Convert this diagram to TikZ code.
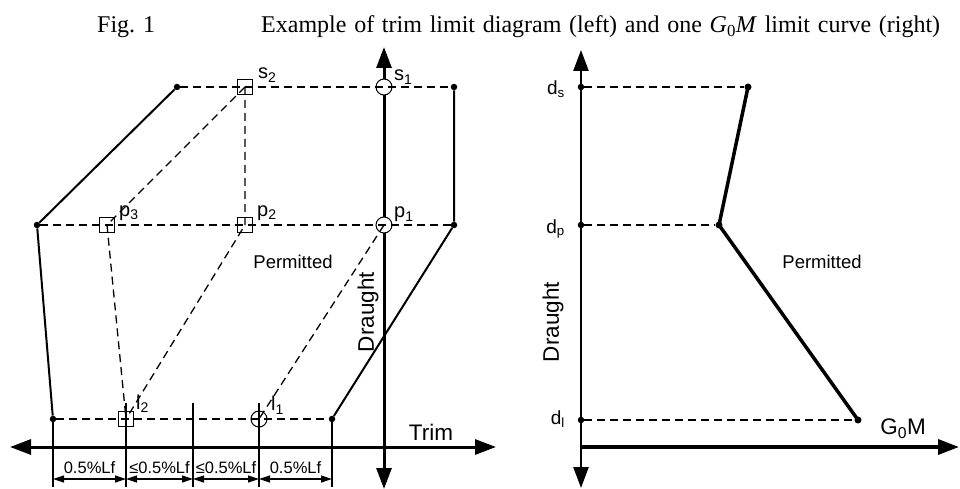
\documentclass[tikz,border=0pt]{standalone}
\usepackage{fontspec}
\setmainfont{Liberation Serif}
\setsansfont{Liberation Sans}
\usetikzlibrary{arrows.meta,positioning,calc}

\begin{document}
\begin{tikzpicture}[x=1pt, y=-1pt,
  dot/.style={circle, fill=black, inner sep=0pt, minimum size=6.5pt},
  sqmark/.style={rectangle, draw=black, fill=white, line width=1pt, inner sep=0pt, minimum size=15pt},
  cmark/.style={circle, draw=black, fill=white, line width=1pt, inner sep=0pt, minimum size=16pt},
  ptlbl/.style={font=\sffamily\fontsize{20pt}{24pt}\selectfont, inner sep=0pt, anchor=base west},
  dlbl/.style={font=\sffamily\fontsize{19pt}{23pt}\selectfont, inner sep=0pt, anchor=base east},
  axlbl/.style={font=\sffamily\fontsize{22.5pt}{26pt}\selectfont, inner sep=0pt},
  permlbl/.style={font=\sffamily\fontsize{18.5pt}{22pt}\selectfont, inner sep=0pt},
  dimlbl/.style={font=\sffamily\fontsize{16.5pt}{20pt}\selectfont, inner sep=0pt, anchor=base},
  guide/.style={dash pattern=on 8pt off 5pt, line width=1.3pt},
  bound/.style={line width=2pt},
  axis/.style={line width=3pt},
  dimtick/.style={line width=1.2pt},
  dim/.style={line width=1.2pt, {Triangle[length=11pt,width=7pt]}-{Triangle[length=11pt,width=7pt]}},
  big/.tip={Triangle[length=21pt,width=15pt]}
]
\useasboundingbox (0,0) rectangle (960,489);

\node[font=\fontsize{24pt}{28pt}\selectfont, inner sep=0pt, anchor=base west] (fig) at (97,33) {Fig. 1};
\node[font=\fontsize{24pt}{28pt}\selectfont, inner sep=0pt, anchor=base west] (caption) at (261,33)
  {\makebox[679pt][s]{Example of trim limit diagram (left) and one \textit{G}\textsubscript{0}\textit{M} limit curve (right)}};

% left: trim limit diagram
\coordinate (trimL) at (10,447);
\coordinate (trimR) at (496,447);
\coordinate (drB) at (384,489);
\coordinate (drT) at (384,47);
\draw[axis, {big}-{big}] (trimL) -- (trimR);
\draw[axis, {big}-{big}] (drB) -- (drT);

\node[dot] (tl) at (177,87) {};
\node[dot] (tr) at (454,87) {};
\node[dot] (ml) at (37,225) {};
\node[dot] (mr) at (454,225) {};
\node[dot] (bl) at (53,419) {};
\node[dot] (br) at (332,419) {};
\draw[bound] (tl) -- (ml) -- (bl);
\draw[bound] (br) -- (mr) -- (tr);

\node[sqmark] (s2) at (245,87) {};
\node[cmark] (s1) at (384,87) {};
\node[sqmark] (p3) at (107,225) {};
\node[sqmark] (p2) at (245,225) {};
\node[cmark] (p1) at (384,225) {};
\node[sqmark] (l2) at (126,419) {};
\node[cmark] (l1) at (259,419) {};

\draw[guide] (tl) -- (s2.center) -- (s1.center) -- (tr);
\draw[guide] (ml) -- (p3.center) -- (p2.center) -- (p1.center) -- (mr);
\draw[guide] (bl) -- (l2.center) -- (l1.center) -- (br);
\draw[guide] (s2.center) -- (p3.center) -- (l2.center);
\draw[guide] (s2.center) -- (p2.center) -- (l2.center);
\draw[guide] (p1.center) -- (l1.center);

\node[ptlbl] at ($(s2.north east)+(5,0)$) {s\textsubscript{2}};
\node[ptlbl] at ($(s1.north east)+(4,0)$) {s\textsubscript{1}};
\node[ptlbl] at ($(p3.north east)+(4,-1)$) {p\textsubscript{3}};
\node[ptlbl] at ($(p2.north east)+(4,-1)$) {p\textsubscript{2}};
\node[ptlbl] at ($(p1.north east)+(4,-1)$) {p\textsubscript{1}};
\node[ptlbl] at ($(l2.north east)+(2,-2)$) {l\textsubscript{2}};
\node[ptlbl] at ($(l1.north east)+(6,-2)$) {l\textsubscript{1}};

\node[permlbl] (perm1) at (293,262) {Permitted};
\node[axlbl, rotate=90] (draught1) at (368,312) {Draught};
\node[axlbl] (trim) at (431,432) {Trim};

\foreach \x/\y [count=\i] in {53/419, 126/403, 193/403, 259/403, 332/419} {
  \coordinate (tt\i) at (\x,\y);
  \coordinate (tb\i) at (\x,487);
  \coordinate (ta\i) at (\x,479);
  \draw[dimtick] (tt\i) -- (tb\i);
}
\foreach \a/\b/\txt in {1/2/{0.5\%Lf}, 2/3/{≤0.5\%Lf}, 3/4/{≤0.5\%Lf}, 4/5/{0.5\%Lf}} {
  \draw[dim] (ta\a) -- (ta\b);
  \node[dimlbl] at ($(ta\a)!0.5!(ta\b)+(0,-6)$) {\txt};
}

% right: G0M limit curve
\coordinate (gB) at (581,488);
\coordinate (gT) at (581,50);
\coordinate (gO) at (580,447);
\coordinate (gR) at (959,447);
\draw[line width=2.5pt, {big}-{big}] (gB) -- (gT);
\draw[line width=3.5pt, -{big}] (gO) -- (gR);

\node[dot] (ds) at (581,87) {};
\node[dot] (dp) at (581,225) {};
\node[dot] (dl) at (581,420) {};
\node[dot, minimum size=7pt] (cs) at (748,87) {};
\node[dot, minimum size=7pt] (cp) at (719,225) {};
\node[dot, minimum size=7pt] (cl) at (858,420) {};
\draw[guide] (ds) -- (cs);
\draw[guide] (dp) -- (cp);
\draw[guide] (dl) -- (cl);
\draw[line width=3.5pt, line join=round] (cs.center) -- (cp.center) -- (cl.center);

\node[dlbl] at (565,95) {d\textsubscript{s}};
\node[dlbl] at (565,233) {d\textsubscript{p}};
\node[dlbl] at (565,424) {d\textsubscript{l}};
\node[permlbl] (perm2) at (822,262) {Permitted};
\node[axlbl, rotate=90] (draught2) at (553,322) {Draught};
\node[axlbl] (gm) at (903,429) {G\textsubscript{0}M};
\end{tikzpicture}
\end{document}
